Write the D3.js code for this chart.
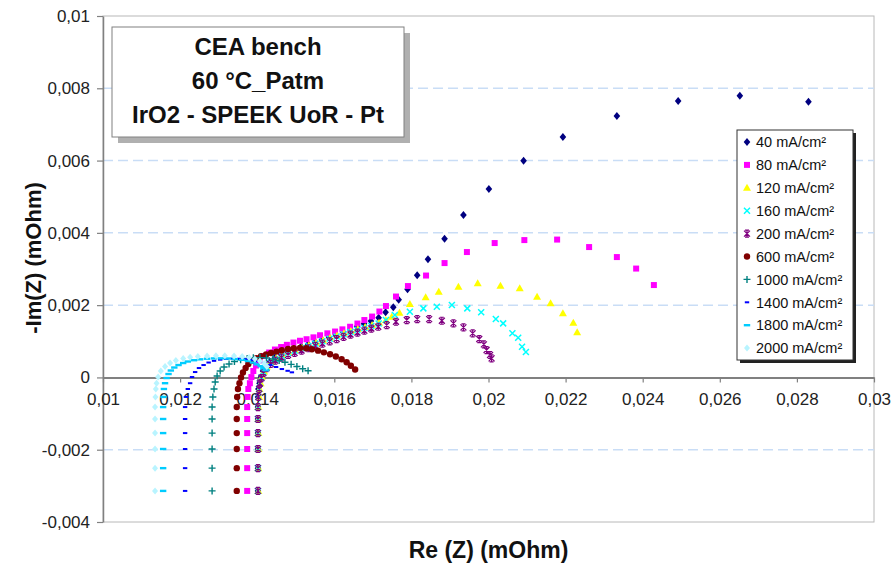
<!DOCTYPE html>
<html>
<head>
<meta charset="utf-8">
<script src="https://cdn.jsdelivr.net/npm/d3@7"></script>
<style>
  body { margin: 0; background: #fff; }
  svg { display: block; font-family: "Liberation Sans", Arial, sans-serif; }
</style>
</head>
<body>
<svg id="chart" width="894" height="563"></svg>
<script>
// Nyquist impedance spectra, Re(Z) vs -Im(Z), one series per current density
const xTicks = [0.01, 0.012, 0.014, 0.016, 0.018, 0.02, 0.022, 0.024, 0.026, 0.028, 0.03];
const yTicks = [-0.004, -0.002, 0, 0.002, 0.004, 0.006, 0.008, 0.01];
const gridValues = [-0.002, 0.002, 0.004, 0.006, 0.008];
const seriesLabels = ["40 mA/cm²", "80 mA/cm²", "120 mA/cm²", "160 mA/cm²", "200 mA/cm²",
                      "600 mA/cm²", "1000 mA/cm²", "1400 mA/cm²", "1800 mA/cm²", "2000 mA/cm²"];
const titleLines = ["CEA bench", "60 °C_Patm", "IrO2 - SPEEK UoR - Pt"];

// [Re(Z), -Im(Z)] in mOhm
const s40 = [[0.01402,-0.00314],[0.01402,-0.00251],[0.01402,-0.00198],[0.01402,-0.00154],[0.01402,-0.00115],
  [0.01402,-0.00082],[0.01402,-0.00054],[0.01403,-0.00032],[0.01406,-0.00016],[0.01410,0.00001],[0.01415,0.000177],
  [0.01423,0.000315],[0.01433,0.00044],[0.01446,0.00055],[0.01462,0.000647],[0.01479,0.000725],[0.01495,0.000791],
  [0.01514,0.000855],[0.01532,0.000918],[0.01550,0.000985],[0.01568,0.001048],[0.01586,0.001117],[0.01604,0.001184],
  [0.01623,0.00125],[0.01641,0.001325],[0.01659,0.001408],[0.01677,0.001483],[0.01695,0.00156],[0.01715,0.001651],
  [0.01733,0.001801],[0.01753,0.001939],[0.01767,0.002149],[0.01790,0.002437],[0.01815,0.002824],[0.01843,0.003267],
  [0.01886,0.003836],[0.01935,0.004492],[0.02001,0.005211],[0.02091,0.005994],[0.02193,0.006649],[0.02333,0.00723],
  [0.02492,0.007645],[0.02652,0.007792],[0.02830,0.007626]];
const s80 = [[0.01374,-0.00314],[0.01374,-0.00251],[0.01374,-0.00198],[0.01374,-0.00154],[0.01374,-0.00115],
  [0.01374,-0.00082],[0.01375,-0.00054],[0.01377,-0.00032],[0.01381,-0.00016],[0.01385,0.00001],[0.01390,0.000177],
  [0.01397,0.000329],[0.01406,0.000467],[0.01418,0.000592],[0.01431,0.000689],[0.01446,0.000772],[0.01462,0.000841],
  [0.01477,0.000902],[0.01494,0.000965],[0.01511,0.001015],[0.01528,0.001057],[0.01546,0.001109],[0.01563,0.001167],
  [0.01582,0.00122],[0.01602,0.00127],[0.01621,0.00133],[0.01641,0.001402],[0.01660,0.001491],[0.01678,0.001588],
  [0.01698,0.001684],[0.01717,0.001823],[0.01734,0.001975],[0.01760,0.002238],[0.01791,0.002528],[0.01838,0.002819],
  [0.01886,0.003164],[0.01944,0.003469],[0.02016,0.003718],[0.02093,0.0038],[0.02178,0.003814],[0.02261,0.003607],
  [0.02333,0.00333],[0.02383,0.003012],[0.02429,0.002556]];
const s120 = [[0.01403,-0.00314],[0.01403,-0.00251],[0.01403,-0.00198],[0.01403,-0.00154],[0.01403,-0.00115],
  [0.01403,-0.00082],[0.01405,-0.00054],[0.01406,-0.00032],[0.01409,-0.00016],[0.01412,0.00001],[0.01418,0.000163],
  [0.01425,0.000301],[0.01436,0.000426],[0.01449,0.000528],[0.01464,0.00062],[0.01481,0.000694],[0.01498,0.000758],
  [0.01516,0.000824],[0.01534,0.000891],[0.01553,0.000957],[0.01571,0.001026],[0.01589,0.001095],[0.01607,0.001162],
  [0.01625,0.001223],[0.01643,0.001283],[0.01661,0.001339],[0.01680,0.001394],[0.01698,0.001449],[0.01716,0.00151],
  [0.01734,0.001588],[0.01749,0.001679],[0.01769,0.00179],[0.01796,0.00203],[0.01837,0.002216],[0.01871,0.00237],
  [0.01922,0.002509],[0.01972,0.002603],[0.02031,0.002536],[0.02081,0.002464],[0.02126,0.002232],[0.02161,0.00205],
  [0.02193,0.001773],[0.02220,0.001513],[0.02230,0.001247]];
const s160 = [[0.01402,-0.00314],[0.01402,-0.00251],[0.01402,-0.00198],[0.01402,-0.00154],[0.01402,-0.00115],
  [0.01402,-0.00082],[0.01403,-0.00054],[0.01405,-0.00032],[0.01407,-0.00016],[0.01411,-0.000003],[0.01416,0.000149],
  [0.01424,0.000288],[0.01435,0.000407],[0.01447,0.000509],[0.01463,0.0006],[0.01480,0.000675],[0.01497,0.000739],
  [0.01515,0.000805],[0.01533,0.000869],[0.01551,0.000935],[0.01569,0.001001],[0.01588,0.001068],[0.01606,0.001131],
  [0.01624,0.001195],[0.01642,0.001256],[0.01660,0.001311],[0.01678,0.001366],[0.01696,0.001422],[0.01715,0.001491],
  [0.01734,0.001588],[0.01757,0.001726],[0.01796,0.001817],[0.01831,0.001911],[0.01866,0.001956],[0.01905,0.002003],
  [0.01945,0.001911],[0.01981,0.001801],[0.02019,0.001615],[0.02038,0.001496],[0.02062,0.00122],[0.02077,0.001098],
  [0.02087,0.000849],[0.02097,0.000703]];
const s200 = [[0.01402,-0.00314],[0.01402,-0.00251],[0.01402,-0.00198],[0.01402,-0.00154],[0.01402,-0.00115],
  [0.01402,-0.00082],[0.01403,-0.00054],[0.01405,-0.00032],[0.01407,-0.000169],[0.01411,-0.000017],[0.01416,0.000122],
  [0.01424,0.00026],[0.01435,0.000371],[0.01447,0.000467],[0.01463,0.00055],[0.01480,0.00062],[0.01497,0.00068],
  [0.01515,0.000744],[0.01533,0.000808],[0.01551,0.000871],[0.01569,0.000935],[0.01588,0.000999],[0.01606,0.001062],
  [0.01624,0.001123],[0.01642,0.001187],[0.01660,0.001242],[0.01678,0.001297],[0.01696,0.001353],[0.01714,0.001402],
  [0.01736,0.001449],[0.01760,0.001541],[0.01788,0.001588],[0.01815,0.001615],[0.01846,0.001615],[0.01879,0.001568],
  [0.01909,0.001496],[0.01935,0.001386],[0.01959,0.00122],[0.01976,0.001062],[0.01988,0.000916],[0.01995,0.000758],
  [0.02004,0.00062],[0.02008,0.000528]];
const s600 = [[0.01347,-0.00314],[0.01347,-0.00251],[0.01347,-0.00198],[0.01347,-0.00154],[0.01347,-0.00115],
  [0.01347,-0.00082],[0.01348,-0.00054],[0.01350,-0.00032],[0.01354,-0.00016],[0.01358,-0.000003],[0.01363,0.000136],
  [0.01370,0.00026],[0.01377,0.000371],[0.01387,0.000462],[0.01398,0.000531],[0.01410,0.000586],[0.01423,0.000633],
  [0.01436,0.000675],[0.01450,0.000714],[0.01464,0.000752],[0.01480,0.000786],[0.01495,0.000808],[0.01511,0.000819],
  [0.01527,0.000808],[0.01542,0.00078],[0.01558,0.000741],[0.01573,0.000694],[0.01589,0.000642],[0.01604,0.000578],
  [0.01619,0.000503],[0.01632,0.000418],[0.01643,0.000324],[0.01654,0.000219]];
const s1000 = [[0.01283,-0.00314],[0.01283,-0.00251],[0.01283,-0.00198],[0.01283,-0.00154],[0.01283,-0.00115],
  [0.01283,-0.00082],[0.01285,-0.00054],[0.01288,-0.00032],[0.01291,-0.000127],[0.01296,0.000039],[0.01304,0.000177],
  [0.01314,0.000288],[0.01327,0.000371],[0.01341,0.00044],[0.01357,0.00049],[0.01374,0.000523],[0.01390,0.000542],
  [0.01407,0.000548],[0.01424,0.000537],[0.01441,0.000509],[0.01457,0.000467],[0.01472,0.000418],[0.01488,0.000362],
  [0.01503,0.000301],[0.01518,0.000241],[0.01532,0.000183]];
const s1400 = [[0.01213,-0.00314],[0.01213,-0.00251],[0.01213,-0.00198],[0.01213,-0.00154],[0.01213,-0.00115],
  [0.01213,-0.00082],[0.01215,-0.00054],[0.01220,-0.00032],[0.01226,-0.00016],[0.01231,0.000011],[0.01239,0.000149],
  [0.01249,0.00026],[0.01261,0.000343],[0.01274,0.000412],[0.01288,0.000459],[0.01304,0.000492],[0.01320,0.000512],
  [0.01337,0.00052],[0.01354,0.000517],[0.01371,0.000506],[0.01387,0.000481],[0.01402,0.000445],[0.01418,0.000398],
  [0.01433,0.000343],[0.01449,0.000288],[0.01464,0.000232],[0.01479,0.000183],[0.01490,0.000141]];
const s1800 = [[0.01156,-0.00314],[0.01156,-0.00251],[0.01156,-0.00198],[0.01156,-0.00154],[0.01156,-0.00115],
  [0.01156,-0.00082],[0.01157,-0.00054],[0.01158,-0.00032],[0.01161,-0.00016],[0.01165,-0.000017],[0.01170,0.000094],
  [0.01176,0.000191],[0.01185,0.000274],[0.01196,0.000343],[0.01208,0.000398],[0.01220,0.00044],[0.01236,0.000476],
  [0.01252,0.000501],[0.01270,0.000517],[0.01288,0.000526],[0.01306,0.000528],[0.01324,0.000523],[0.01342,0.000509],
  [0.01361,0.000487],[0.01376,0.000454],[0.01389,0.000412],[0.01399,0.000362],[0.01409,0.00031],[0.01416,0.000254],
  [0.01423,0.000199]];
const s2000 = [[0.01135,-0.00314],[0.01135,-0.00251],[0.01135,-0.00198],[0.01135,-0.00154],[0.01135,-0.00115],
  [0.01135,-0.00082],[0.01136,-0.00054],[0.01137,-0.00032],[0.01139,-0.00016],[0.01143,0.00001],[0.01150,0.000177],
  [0.01161,0.000301],[0.01174,0.000398],[0.01189,0.000467],[0.01208,0.000523],[0.01226,0.000556],[0.01246,0.000578],
  [0.01270,0.000592],[0.01293,0.000597],[0.01316,0.000597],[0.01340,0.000592],[0.01361,0.000578],[0.01379,0.00055],
  [0.01394,0.000509],[0.01407,0.000454],[0.01418,0.000384],[0.01425,0.000301]];

const seriesData = [s40, s80, s120, s160, s200, s600, s1000, s1400, s1800, s2000];

// Marker styles (Excel-like automatic markers)
const markers = [
  { path: "M0,-4L3.3,0L0,4L-3.3,0Z", fill: "#000080", stroke: "none" },
  { path: "M-3,-3H3V3H-3Z", fill: "#ff00ff", stroke: "none" },
  { path: "M0,-4L4,3L-4,3Z", fill: "#ffff00", stroke: "none" },
  { path: "M-3,-3L3,3M3,-3L-3,3", fill: "none", stroke: "#00ffff", width: 1.5 },
  { path: "M-3,-3L3,3M3,-3L-3,3M0,-3.5V3.5M-2,-3.5H2M-2,3.5H2", fill: "none", stroke: "#800080", width: 1.2 },
  { path: "M3.2,0A3.2,3.2 0 1,1 -3.2,0A3.2,3.2 0 1,1 3.2,0Z", fill: "#800000", stroke: "none" },
  { path: "M-3.5,0H3.5M0,-3.5V3.5", fill: "none", stroke: "#008080", width: 1.4 },
  { path: "M-2.2,0H2.2", fill: "none", stroke: "#0000ff", width: 2 },
  { path: "M-3.2,0H3.2", fill: "none", stroke: "#00ccff", width: 2.4 },
  { path: "M0,-3.5L3,0L0,3.5L-3,0Z", fill: "#b8f4ff", stroke: "none" }
];

const svg = d3.select("#chart");
const plot = { left: 103, right: 874, top: 16, bottom: 522 };

const x = d3.scaleLinear().domain([0.01, 0.03]).range([plot.left, plot.right]);
const y = d3.scaleLinear().domain([-0.004, 0.01]).range([plot.bottom, plot.top]);

const locale = d3.formatLocale({ decimal: ",", thousands: " ", grouping: [3], currency: ["", ""], minus: "-" });
const fmt = locale.format("~g");

// plot area frame
svg.append("rect")
  .attr("x", plot.left).attr("y", plot.top)
  .attr("width", plot.right - plot.left).attr("height", plot.bottom - plot.top)
  .attr("fill", "#fff").attr("stroke", "#b8b8b8").attr("stroke-width", 1);

// dashed horizontal gridlines
svg.append("g").selectAll("line").data(gridValues).join("line")
  .attr("x1", plot.left).attr("x2", plot.right)
  .attr("y1", d => y(d)).attr("y2", d => y(d))
  .attr("stroke", "#c9ddf6").attr("stroke-width", 1.5).attr("stroke-dasharray", "10,5");

// y axis
const yAxis = svg.append("g").attr("transform", `translate(${plot.left},0)`)
  .call(d3.axisLeft(y).tickValues(yTicks).tickFormat(fmt).tickSize(6).tickPadding(7).tickSizeOuter(0));
yAxis.select(".domain").attr("stroke", "#808080").attr("stroke-width", 1.5);
yAxis.selectAll(".tick line").attr("stroke", "#808080").attr("stroke-width", 1.2);
yAxis.selectAll("text").attr("font-size", 17).attr("fill", "#222").attr("font-family", "Liberation Sans, Arial, sans-serif");

// x axis crossing at -Im(Z) = 0
const xAxis = svg.append("g").attr("transform", `translate(0,${y(0)})`)
  .call(d3.axisBottom(x).tickValues(xTicks).tickFormat(fmt).tickSize(5).tickPadding(11).tickSizeOuter(0));
xAxis.select(".domain").attr("stroke", "#808080").attr("stroke-width", 2);
xAxis.selectAll(".tick line").attr("stroke", "#808080").attr("stroke-width", 1.2);
xAxis.selectAll("text").attr("font-size", 17).attr("fill", "#222").attr("font-family", "Liberation Sans, Arial, sans-serif");

// data markers, first series drawn first
const marks = svg.append("g");
seriesData.forEach((data, i) => {
  const m = markers[i];
  marks.append("g").selectAll("path").data(data).join("path")
    .attr("transform", d => `translate(${x(d[0])},${y(d[1])})`)
    .attr("d", m.path)
    .attr("fill", m.fill)
    .attr("stroke", m.stroke)
    .attr("stroke-width", m.width || 0);
});

// axis titles
svg.append("text")
  .attr("x", (plot.left + plot.right) / 2).attr("y", 558)
  .attr("text-anchor", "middle").attr("font-size", 23).attr("font-weight", "bold").attr("fill", "#111")
  .text("Re (Z) (mOhm)");
svg.append("text")
  .attr("transform", "translate(41,258) rotate(-90)")
  .attr("text-anchor", "middle").attr("font-size", 22).attr("font-weight", "bold").attr("fill", "#111")
  .text("-Im(Z) (mOhm)");

// annotation box with test conditions
const tb = { x: 112, y: 27, w: 292, h: 110 };
svg.append("rect").attr("x", tb.x + 6).attr("y", tb.y + 6).attr("width", tb.w).attr("height", tb.h)
  .attr("fill", "#b0b0b0");
svg.append("rect").attr("x", tb.x).attr("y", tb.y).attr("width", tb.w).attr("height", tb.h)
  .attr("fill", "#fff").attr("stroke", "#808080").attr("stroke-width", 1);
svg.append("g").selectAll("text").data(titleLines).join("text")
  .attr("x", tb.x + tb.w / 2).attr("y", (d, i) => 55 + i * 34)
  .attr("text-anchor", "middle").attr("font-size", 24).attr("font-weight", "bold").attr("fill", "#111")
  .text(d => d);

// legend
const lg = { x: 737, y: 130, w: 116, h: 230, row0: 142, step: 22.9 };
svg.append("rect").attr("x", lg.x + 3).attr("y", lg.y + 3).attr("width", lg.w).attr("height", lg.h)
  .attr("fill", "#222");
svg.append("rect").attr("x", lg.x).attr("y", lg.y).attr("width", lg.w).attr("height", lg.h)
  .attr("fill", "#fff").attr("stroke", "#333").attr("stroke-width", 1);
const items = svg.append("g").selectAll("g").data(seriesLabels).join("g")
  .attr("transform", (d, i) => `translate(${lg.x + 10},${lg.row0 + i * lg.step})`);
items.append("path")
  .attr("d", (d, i) => markers[i].path)
  .attr("fill", (d, i) => markers[i].fill)
  .attr("stroke", (d, i) => markers[i].stroke)
  .attr("stroke-width", (d, i) => markers[i].width || 0);
items.append("text")
  .attr("x", 9).attr("dy", "0.36em")
  .attr("font-size", 14.5).attr("fill", "#111")
  .text(d => d);
</script>
</body>
</html>
